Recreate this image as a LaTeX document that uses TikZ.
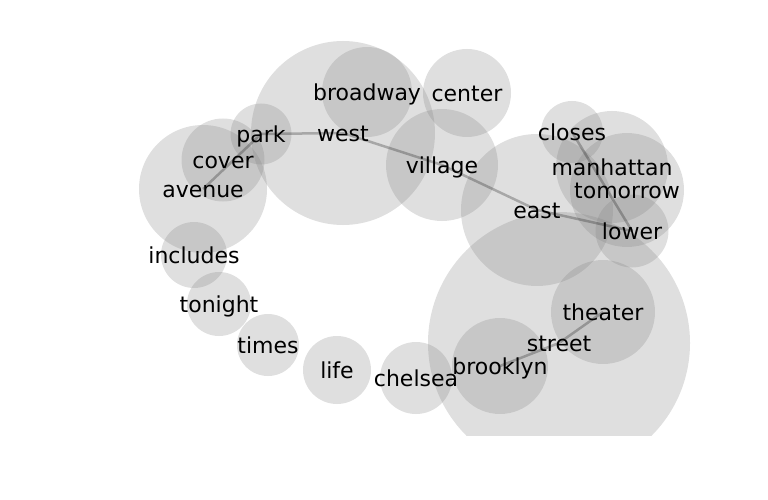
\documentclass[tikz,border=0pt]{standalone}
\usepackage{fontspec}
\setmainfont{DejaVu Sans}
\begin{document}
\begin{tikzpicture}[x=1pt,y=-1pt,
  bub/.style={circle,fill=black!50,fill opacity=0.25,draw=none,inner sep=0pt,minimum size=#1},
  lbl/.style={font=\fontsize{22}{26}\selectfont,inner sep=0pt,text height=16.7pt,text depth=4.6pt,yshift=-2pt},
  edge/.style={draw=black,draw opacity=0.25,line width=2.5pt}]
\useasboundingbox (0,0) rectangle (768,500);
\begin{scope}
\clip (0,0) rectangle (768,435.5);
\node[bub=184pt] (west) at (343,133) {};
\node[bub=90pt] (broadway) at (367,92) {};
\node[bub=88pt] (center) at (467,93) {};
\node[bub=61pt] (park) at (261,134) {};
\node[bub=83pt] (cover) at (223,160) {};
\node[bub=128pt] (avenue) at (203,189) {};
\node[bub=112pt] (village) at (442,165) {};
\node[bub=152pt] (east) at (537,210) {};
\node[bub=62pt] (closes) at (572,132) {};
\node[bub=112pt] (manhattan) at (612,167) {};
\node[bub=114pt] (tomorrow) at (627,190) {};
\node[bub=73pt] (lower) at (632,231) {};
\node[bub=262pt] (street) at (559,343) {};
\node[bub=104pt] (theater) at (603,312) {};
\node[bub=96pt] (brooklyn) at (500,366) {};
\node[bub=72pt] (chelsea) at (416,378) {};
\node[bub=68pt] (life) at (337,370) {};
\node[bub=62pt] (times) at (268,345) {};
\node[bub=64pt] (tonight) at (219,304) {};
\node[bub=66pt] (includes) at (194,255) {};
\end{scope}
\draw[edge] (avenue.center) -- (park.center);
\draw[edge] (park.center) -- (west.center);
\draw[edge] (west.center) -- (village.center);
\draw[edge] (village.center) -- (east.center);
\draw[edge] (east.center) -- (lower.center);
\draw[edge] (closes.center) -- (lower.center);
\draw[edge] (brooklyn.center) -- (street.center);
\draw[edge] (street.center) -- (theater.center);
\node[lbl] (tw) at (west) {west};
\node[lbl] (tbroadway) at (broadway) {broadway};
\node[lbl] (tcenter) at (center) {center};
\node[lbl] (tpark) at (park) {park};
\node[lbl] (tcover) at (cover) {cover};
\node[lbl] (tavenue) at (avenue) {avenue};
\node[lbl] (tvillage) at (village) {village};
\node[lbl] (teast) at (east) {east};
\node[lbl] (tcloses) at (closes) {closes};
\node[lbl] (tmanhattan) at (manhattan) {manhattan};
\node[lbl] (ttomorrow) at (tomorrow) {tomorrow};
\node[lbl] (tlower) at (lower) {lower};
\node[lbl] (tstreet) at (street) {street};
\node[lbl] (ttheater) at (theater) {theater};
\node[lbl] (tbrooklyn) at (brooklyn) {brooklyn};
\node[lbl] (tchelsea) at (chelsea) {chelsea};
\node[lbl] (tlife) at (life) {life};
\node[lbl] (ttimes) at (times) {times};
\node[lbl] (ttonight) at (tonight) {tonight};
\node[lbl] (tincludes) at (includes) {includes};
\end{tikzpicture}
\end{document}
